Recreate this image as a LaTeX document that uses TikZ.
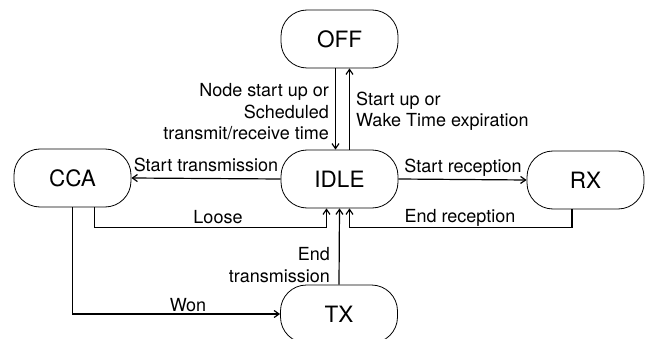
\documentclass[tikz,border=0pt]{standalone}
\usepackage{fontspec}
\setmainfont{TeX Gyre Heros}
\usetikzlibrary{arrows.meta}

\tikzset{
  state/.style={draw,line width=0.8pt,rounded corners=26pt,minimum width=117pt,
    minimum height=58pt,font=\fontsize{22.5}{26}\selectfont},
  trans/.style={-{Straight Barb[length=5pt,width=7pt]},line width=1.2pt},
  lbl/.style={font=\fontsize{18}{21.5}\selectfont,inner sep=1pt}
}

\begin{document}
\begin{tikzpicture}[x=1pt,y=1pt]
        \useasboundingbox (0,0) rectangle (662,338);
        \coordinate (O) at (339.5,299);
        \coordinate (I) at (339.5,159);
        \coordinate (C) at (72.5,160);
        \coordinate (R) at (585.5,158);
        \coordinate (T) at (339,24);

        \node[state] (off) at (O) {OFF};
        \node[state] (idle) at (I) {IDLE};
        \node[state] (cca) at (C) {CCA};
        \node[state] (rx) at (R) {RX};
        \node[state] (tx) at (T) {TX};

        \draw[trans] ([xshift=-4pt]off.south) -- ([xshift=-4pt]idle.north);
        \draw[trans] ([xshift=10pt]idle.north) -- ([xshift=10pt]off.south);
        \draw[trans] (idle.west) -- (cca.east);
        \draw[trans] (idle.east) -- (rx.west);
        \draw[trans] ([xshift=22pt]cca.south) |- ([xshift=-13pt,yshift=-19pt]idle.south) -- ([xshift=-13pt]idle.south);
        \draw[trans] ([xshift=-13.5pt]rx.south) |- ([xshift=10pt,yshift=-19pt]idle.south) -- ([xshift=10pt]idle.south);
        \draw[trans] (tx.north) -- (idle.south);
        \draw[trans] (cca.south) |- (tx.west);

        \node[lbl,align=right,anchor=east] (lboot) at (330,226) {Node start up or\\Scheduled\\transmit/receive time};
        \node[lbl,align=left,anchor=west] (lwake) at (355,227) {Start up or\\Wake Time expiration};
        \node[lbl] (lstx) at (206,173) {Start transmission};
        \node[lbl] (lsrx) at (463,170) {Start reception};
        \node[lbl] (lloose) at (218,121) {Loose};
        \node[lbl] (lerx) at (460,120) {End reception};
        \node[lbl,align=right,anchor=east] (letx) at (331,73) {End\\transmission};
        \node[lbl] (lwon) at (188,33) {Won};
    \end{tikzpicture}
\end{document}
